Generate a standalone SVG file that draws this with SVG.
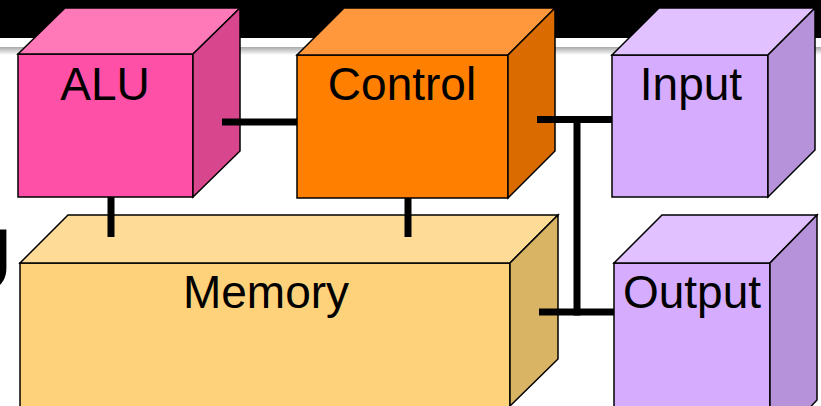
<svg xmlns="http://www.w3.org/2000/svg" width="821" height="406" viewBox="0 0 821 406">
  <defs>
    <linearGradient id="barShadow" x1="0" y1="0" x2="0" y2="1">
      <stop offset="0" stop-color="#a8a8a8"/>
      <stop offset="1" stop-color="#ffffff"/>
    </linearGradient>
  </defs>
  <style>
    .edge { stroke: #000; stroke-width: 1.5; stroke-linejoin: miter; }
    .label { font-family: "Liberation Sans", Arial, sans-serif; font-size: 46px; fill: #000; text-anchor: middle; }
    .wire { stroke: #000; stroke-width: 7; fill: none; stroke-linecap: butt; }
    .alu .front { fill: #ff50a8; } .alu .top { fill: #ff78b8; } .alu .side { fill: #d8468e; }
    .ctl .front { fill: #ff7f00; } .ctl .top { fill: #ff973c; } .ctl .side { fill: #d96b00; }
    .io .front { fill: #d6acff; } .io .top { fill: #e1c1ff; } .io .side { fill: #b592d9; }
    .mem .front { fill: #fed27a; } .mem .top { fill: #fedc98; } .mem .side { fill: #d8b464; }
  </style>

  <rect x="0" y="0" width="821" height="406" fill="#ffffff"/>
  <!-- slide title bar -->
  <rect x="0" y="0" width="821" height="38" fill="#000000"/>
  <rect x="0" y="47" width="821" height="8" fill="url(#barShadow)"/>
  <!-- title letter clipped by left edge -->
  <text x="-51" y="291" font-family="Liberation Sans, Arial, sans-serif" font-size="89" fill="#000">U</text>

  <g id="alu" class="alu">
    <polygon class="front edge" points="18,54 193,54 193,197 18,197"/>
    <polygon class="top edge" points="18,54 65,8 240,8 193,54"/>
    <polygon class="side edge" points="193,54 240,8 240,151 193,197"/>
    <text class="label" x="105" y="100">ALU</text>
  </g>

  <g id="control" class="ctl">
    <polygon class="front edge" points="297,55 508,55 508,198 297,198"/>
    <polygon class="top edge" points="297,55 344,8 555,8 508,55"/>
    <polygon class="side edge" points="508,55 555,8 555,151 508,198"/>
    <text class="label" x="402" y="100">Control</text>
  </g>

  <g id="input" class="io">
    <polygon class="front edge" points="612,55 768,55 768,197 612,197"/>
    <polygon class="top edge" points="612,55 659,8 815,8 768,55"/>
    <polygon class="side edge" points="768,55 815,8 815,150 768,197"/>
    <text class="label" x="691" y="100">Input</text>
  </g>

  <g id="memory" class="mem">
    <polygon class="front edge" points="20,263 510,263 510,410 20,410"/>
    <polygon class="top edge" points="20,263 68,215 558,215 510,263"/>
    <polygon class="side edge" points="510,263 558,215 558,359 510,406"/>
    <text class="label" x="266" y="308">Memory</text>
  </g>

  <g id="output" class="io">
    <polygon class="front edge" points="614,263 770,263 770,430 614,430"/>
    <polygon class="top edge" points="614,263 662,215 817,215 770,263"/>
    <polygon class="side edge" points="770,263 817,215 817,400 770,450"/>
    <text class="label" x="692" y="308">Output</text>
  </g>

  <g id="connectors">
    <line class="wire" x1="222" y1="122" x2="297" y2="122"/>
    <line class="wire" x1="111" y1="197" x2="111" y2="237"/>
    <line class="wire" x1="408" y1="198" x2="408" y2="237"/>
    <line class="wire" x1="537" y1="119.5" x2="612" y2="119.5"/>
    <line class="wire" x1="577" y1="116" x2="577" y2="315.5"/>
    <line class="wire" x1="539" y1="312" x2="614" y2="312"/>
  </g>
</svg>
